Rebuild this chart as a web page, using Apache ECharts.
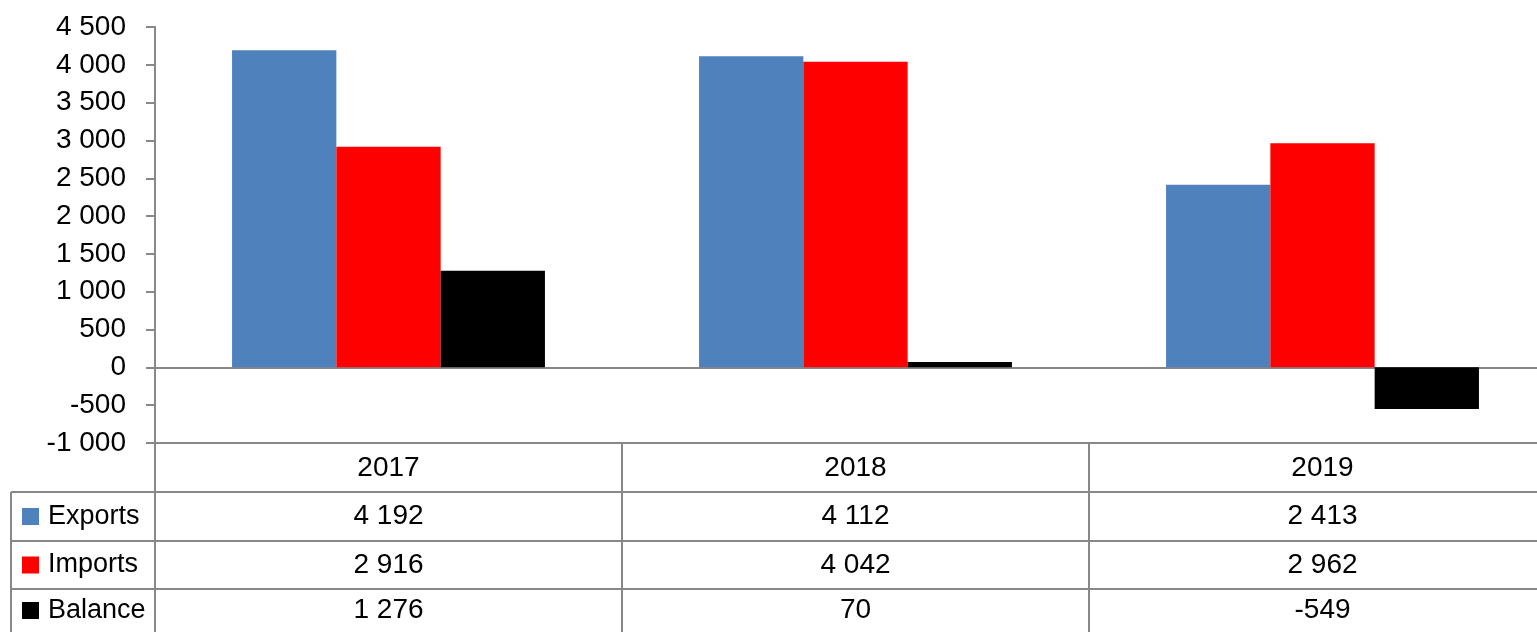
<!DOCTYPE html>
<html>
<head>
<meta charset="utf-8">
<title>Exports, imports and balance 2017–2019</title>
<script src="https://cdn.jsdelivr.net/npm/echarts@6/dist/echarts.min.js"></script>
<style>
  html, body { margin: 0; padding: 0; background: #fff; overflow: hidden; }
  /* the last column runs a little past the right edge of the window */
  #chart { width: 1556px; height: 632px; }
</style>
</head>
<body>
<div id="chart"></div>
<script>
// Trade figures by year
const years = ['2017', '2018', '2019'];
const seriesNames = ['Exports', 'Imports', 'Balance'];
const exportsData = [4192, 4112, 2413];
const importsData = [2916, 4042, 2962];
const balanceData = [1276, 70, -549];
const seriesColors = ['#4F81BD', '#FF0000', '#000000'];

// Value axis range
const yMin = -1000;
const yMax = 4500;
const yStep = 500;

const FONT = "'Liberation Sans', Arial, sans-serif";
const FONT_SIZE = 28;
const LINE = '#888888';
const WIDTH = 1556;

// Thousands grouped with a space, e.g. "4 192", "-1 000"
function fmt(v) {
  const sign = v < 0 ? '-' : '';
  const s = String(Math.abs(v));
  return sign + s.replace(/\B(?=(\d{3})+(?!\d))/g, ' ');
}

const chart = echarts.init(document.getElementById('chart'), null, { renderer: 'canvas' });

const values = [exportsData, importsData, balanceData];

chart.setOption({
  animation: false,
  backgroundColor: '#ffffff',
  textStyle: { fontFamily: FONT },
  grid: { left: 155, top: 27, right: 0, height: 416, containLabel: false },
  xAxis: [
    {
      type: 'category',
      data: years,
      axisLine: { onZero: true, lineStyle: { color: LINE, width: 2 } },
      axisTick: { show: false },
      axisLabel: { show: false }
    },
    {
      // bottom axis doubles as the header row of the data table
      type: 'category',
      data: years,
      position: 'bottom',
      axisLine: { onZero: false, lineStyle: { color: LINE, width: 2 } },
      axisTick: { show: true, inside: false, length: 189, lineStyle: { color: LINE, width: 2 } },
      axisLabel: { show: true, margin: 11, color: '#000', fontSize: FONT_SIZE, fontFamily: FONT }
    }
  ],
  yAxis: {
    type: 'value',
    min: yMin,
    max: yMax,
    interval: yStep,
    axisLine: { show: true, lineStyle: { color: LINE, width: 2 } },
    axisTick: { show: true, length: 9, lineStyle: { color: LINE, width: 2 } },
    splitLine: { show: false },
    axisLabel: { margin: 29, color: '#000', fontSize: FONT_SIZE, fontFamily: FONT, formatter: fmt }
  },
  series: seriesNames.map((name, i) => ({
    name: name,
    type: 'bar',
    xAxisIndex: 0,
    data: values[i],
    barGap: '0%',
    barCategoryGap: '33%',
    itemStyle: { color: seriesColors[i] }
  }))
});

// Data table under the plot: row lines, legend keys, labels and values
const rowTops = [492, 541, 589];
const rowBottom = 632;
const tableLeft = 11;
const graphics = [];

rowTops.forEach(y => {
  graphics.push({
    type: 'line', silent: true,
    shape: { x1: tableLeft, y1: y, x2: WIDTH, y2: y },
    style: { stroke: LINE, lineWidth: 2 }
  });
});
graphics.push({
  type: 'line', silent: true,
  shape: { x1: tableLeft, y1: rowTops[0], x2: tableLeft, y2: rowBottom },
  style: { stroke: LINE, lineWidth: 2 }
});

seriesNames.forEach((name, i) => {
  const top = rowTops[i];
  const bottom = i + 1 < rowTops.length ? rowTops[i + 1] : rowBottom;
  const cy = (top + bottom) / 2;
  graphics.push({
    type: 'rect', silent: true,
    shape: { x: 22, y: cy - 8.5, width: 17, height: 17 },
    style: { fill: seriesColors[i] }
  });
  graphics.push({
    type: 'text', silent: true,
    x: 48, y: cy,
    style: { text: name, fill: '#000', font: (FONT_SIZE - 1) + 'px ' + FONT, verticalAlign: 'middle' }
  });
  years.forEach((yr, j) => {
    const cx = chart.convertToPixel({ xAxisIndex: 0 }, yr);
    graphics.push({
      type: 'text', silent: true,
      x: cx, y: cy,
      style: { text: fmt(values[i][j]), fill: '#000', font: FONT_SIZE + 'px ' + FONT, align: 'center', verticalAlign: 'middle' }
    });
  });
});

chart.setOption({ graphic: graphics });
</script>
</body>
</html>
